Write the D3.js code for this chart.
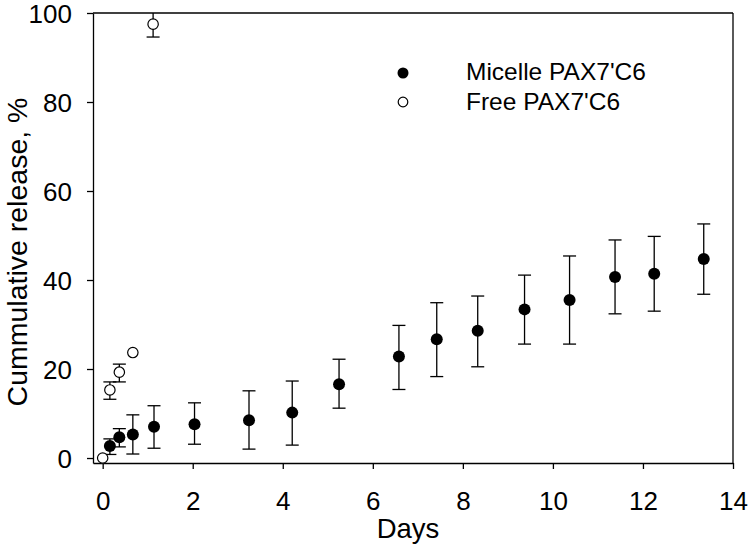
<!DOCTYPE html>
<html><head><meta charset="utf-8">
<script src="https://cdn.jsdelivr.net/npm/d3@7"></script>
<style>
body{margin:0;background:#fff;}
svg{display:block;font-family:Arial,"Liberation Sans",sans-serif;}
</style></head>
<body>
<svg id="c" width="750" height="549"></svg>
<script>
const micelleDays = [0.16, 0.37, 0.67, 1.14, 2.04, 3.25, 4.21, 5.25, 6.58, 7.42, 8.33, 9.37, 10.37, 11.38, 12.25, 13.35];
const micelleMean = [2.7, 4.65, 5.3, 7.0, 7.6, 8.5, 10.2, 16.6, 22.8, 26.7, 28.6, 33.4, 35.5, 40.7, 41.4, 44.7];
const micelleLow  = [0.8, 2.5, 0.9, 2.2, 3.1, 2.0, 2.9, 11.2, 15.4, 18.3, 20.5, 25.6, 25.6, 32.4, 33.0, 36.8];
const micelleHigh = [4.3, 6.6, 9.7, 11.75, 12.4, 15.1, 17.3, 22.2, 29.8, 34.9, 36.4, 41.1, 45.4, 49.0, 49.8, 52.6];

const freeDays = [0, 0.16, 0.37, 0.67, 1.12];
const freeMean = [0, 15.3, 19.3, 23.7, 97.5];
const freeLow  = [0, 13.2, 17.1, 23.7, 94.6];
const freeHigh = [0, 17.1, 21.1, 23.7, 100.4];

const xTicks = [0, 2, 4, 6, 8, 10, 12, 14];
const yTicks = [0, 20, 40, 60, 80, 100];
const seriesNames = ["Micelle PAX7'C6", "Free PAX7'C6"];
const xTitle = "Days";
const yTitle = "Cummulative release, %";

const L = 93, R = 733, T = 13, B = 463;
const svg = d3.select("#c");
const x = d3.scaleLinear().domain([-0.215, 14]).range([L, R]);
const y = d3.scaleLinear().domain([-1.12, 100]).range([B, T]);

svg.append("defs").append("clipPath").attr("id","clip")
  .append("rect").attr("x",L).attr("y",T).attr("width",R-L).attr("height",B-T);

// frame top/right
svg.append("line").attr("x1",L).attr("x2",R).attr("y1",T).attr("y2",T).attr("stroke","#000").attr("stroke-width",1.3);
svg.append("line").attr("x1",R).attr("x2",R).attr("y1",T).attr("y2",B).attr("stroke","#000").attr("stroke-width",1.3);

const xAxis = svg.append("g").attr("transform",`translate(0,${B})`)
  .call(d3.axisBottom(x).tickValues(xTicks).tickSize(6).tickPadding(8).tickSizeOuter(0));
const yAxis = svg.append("g").attr("transform",`translate(${L},0)`)
  .call(d3.axisLeft(y).tickValues(yTicks).tickSize(6).tickPadding(15).tickSizeOuter(0));
[xAxis,yAxis].forEach(g=>{
  g.select(".domain").attr("stroke","#000").attr("stroke-width",1.3);
  g.selectAll(".tick line").attr("stroke","#000").attr("stroke-width",1.3);
  g.selectAll(".tick text").attr("fill","#000").style("font-size","26px").style("font-family","Arial,'Liberation Sans',sans-serif");
});
xAxis.selectAll(".tick text").attr("dy","33px");
yAxis.selectAll(".tick text").attr("dy","0.36em");

svg.append("text").attr("x",(L+R)/2-5).attr("y",538).attr("text-anchor","middle")
  .style("font-size","27.5px").text(xTitle);
svg.append("text").attr("transform",`translate(27,252) rotate(-90)`).attr("text-anchor","middle")
  .style("font-size","28.5px").text(yTitle);

const plot = svg.append("g").attr("clip-path","url(#clip)");
const cap = 6.5;
function errbars(days, lo, hi){
  const g = plot.append("g").attr("stroke","#000").attr("stroke-width",1.3);
  days.forEach((d,i)=>{
    if (hi[i]-lo[i] < 0.01) return;
    const cx = x(d);
    g.append("line").attr("x1",cx).attr("x2",cx).attr("y1",y(lo[i])).attr("y2",y(hi[i]));
    g.append("line").attr("x1",cx-cap).attr("x2",cx+cap).attr("y1",y(lo[i])).attr("y2",y(lo[i]));
    g.append("line").attr("x1",cx-cap).attr("x2",cx+cap).attr("y1",y(hi[i])).attr("y2",y(hi[i]));
  });
}
errbars(micelleDays, micelleLow, micelleHigh);
errbars(freeDays, freeLow, freeHigh);

svg.append("g").selectAll("circle").data(micelleDays).join("circle")
  .attr("cx",d=>x(d)).attr("cy",(d,i)=>y(micelleMean[i])).attr("r",6).attr("fill","#000");
svg.append("g").selectAll("circle").data(freeDays).join("circle")
  .attr("cx",d=>x(d)).attr("cy",(d,i)=>y(freeMean[i])).attr("r",5.2)
  .attr("fill","#fff").attr("stroke","#000").attr("stroke-width",1.2);

// legend
const lg = svg.append("g");
lg.append("circle").attr("cx",403).attr("cy",73).attr("r",5.5).attr("fill","#000");
lg.append("circle").attr("cx",403).attr("cy",102).attr("r",4.8).attr("fill","#fff").attr("stroke","#000").attr("stroke-width",1.2);
lg.append("text").attr("x",466).attr("y",80).style("font-size","24.5px").text(seriesNames[0]);
lg.append("text").attr("x",466).attr("y",110).style("font-size","24.5px").text(seriesNames[1]);
</script>
</body></html>
